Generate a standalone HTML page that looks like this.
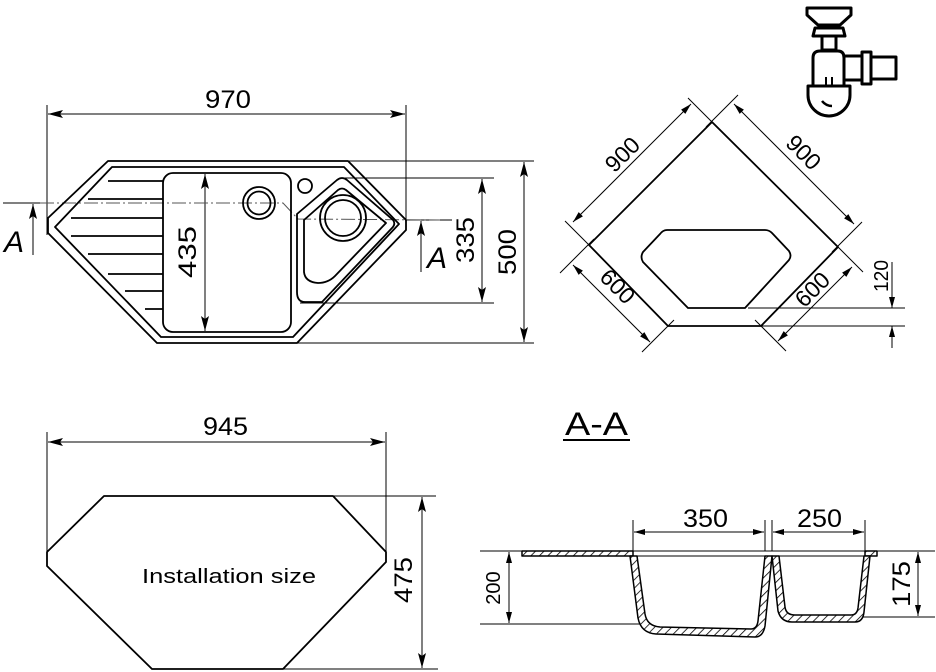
<!DOCTYPE html>
<html><head><meta charset="utf-8"><style>
html,body{margin:0;padding:0;background:#fff;}
svg{display:block;}
text{font-family:"Liberation Sans",sans-serif;fill:#000;}
</style></head><body>
<svg width="936" height="672" viewBox="0 0 936 672" xmlns="http://www.w3.org/2000/svg">
<defs>
<marker id="a" markerWidth="16" markerHeight="8" refX="15" refY="4" orient="auto-start-reverse" markerUnits="userSpaceOnUse"><path d="M0,0 L15,4 L0,8 L3,4 Z" fill="#000"/></marker>
<marker id="s" markerWidth="12" markerHeight="6" refX="11" refY="3" orient="auto-start-reverse" markerUnits="userSpaceOnUse"><path d="M0,0 L11,3 L0,6 Z" fill="#000"/></marker>
<pattern id="h" width="6" height="6" patternUnits="userSpaceOnUse" patternTransform="rotate(45)"><rect width="6" height="6" fill="#fff"/><line x1="0" y1="0" x2="0" y2="6" stroke="#000" stroke-width="1.6"/></pattern>
</defs>

<g fill="none" stroke="#000" stroke-width="1">
<line x1="47" y1="105" x2="47" y2="235"/>
<line x1="406" y1="105" x2="406" y2="222"/>
<line x1="48" y1="114" x2="405" y2="114" marker-start="url(#a)" marker-end="url(#a)"/>
<line x1="348" y1="161" x2="534" y2="161"/>
<line x1="297" y1="343" x2="534" y2="343"/>
<line x1="524" y1="162" x2="524" y2="342" marker-start="url(#a)" marker-end="url(#a)"/>
<line x1="342" y1="178" x2="494" y2="178"/>
<line x1="300" y1="303" x2="494" y2="303"/>
<line x1="482" y1="179" x2="482" y2="302" marker-start="url(#a)" marker-end="url(#a)"/>
<line x1="205" y1="174" x2="205" y2="331" marker-start="url(#a)" marker-end="url(#a)"/>
<line x1="3" y1="203" x2="40" y2="203"/>
<line x1="33" y1="255" x2="33" y2="204" marker-end="url(#a)"/>
<line x1="405" y1="220" x2="452" y2="220"/>
<line x1="421" y1="272" x2="421" y2="221" marker-end="url(#a)"/>
<path d="M40,203 L283,203 L298,219 L440,220" stroke="#555" stroke-dasharray="14,3,2,3"/>
</g>
<g fill="none" stroke="#000" stroke-width="1.8" stroke-linejoin="round">
<path d="M108,161 L348,161 L406,220 L406,230 L297,343 L157,343 L48,233 L48,218 Z"/>
<path d="M112,167 L344,167 L399,224 L293,337 L161,337 L55,227 Z"/>
<rect x="163" y="173" width="128" height="159" rx="10"/>
<circle cx="259" cy="203" r="16"/>
<circle cx="259" cy="203" r="11.5"/>
<circle cx="305" cy="186" r="7"/>
<path d="M297,214 L337,180 Q342,176 347,180 L393,220 Q396,224 392,228 L322,302 L305,302 Q297,302 297,292 Z"/>
<path d="M304,220 L338,190 Q342,187 346,190 L386,223 L335,276 Q328,283 318,283 Q305,282 304,272 Z"/>
<circle cx="343" cy="218" r="23"/>
<circle cx="343" cy="218" r="18"/>
</g>
<g stroke="#000" stroke-width="1.8">
<line x1="108" y1="181" x2="163" y2="181"/>
<line x1="88" y1="199" x2="163" y2="199"/>
<line x1="71" y1="218" x2="163" y2="218"/>
<line x1="71" y1="236" x2="163" y2="236"/>
<line x1="88" y1="254" x2="163" y2="254"/>
<line x1="108" y1="274" x2="163" y2="274"/>
<line x1="125" y1="291" x2="163" y2="291"/>
<line x1="145" y1="309" x2="163" y2="309"/>
</g>
<text x="205" y="108" font-size="25" textLength="46" lengthAdjust="spacingAndGlyphs">970</text>
<text transform="translate(196,252) rotate(-90)" font-size="25" text-anchor="middle" textLength="52" lengthAdjust="spacingAndGlyphs">435</text>
<text transform="translate(474,240) rotate(-90)" font-size="25" text-anchor="middle" textLength="46" lengthAdjust="spacingAndGlyphs">335</text>
<text transform="translate(516,252) rotate(-90)" font-size="25" text-anchor="middle" textLength="46" lengthAdjust="spacingAndGlyphs">500</text>
<text x="4" y="252" font-size="30" font-style="italic">A</text>
<text x="427" y="268" font-size="30" font-style="italic">A</text>

<g fill="none" stroke="#000" stroke-width="1">
<line x1="688" y1="98" x2="718" y2="128"/>
<line x1="565" y1="221" x2="595" y2="251"/>
<line x1="573" y1="222" x2="691" y2="104" marker-start="url(#s)" marker-end="url(#s)"/>
<line x1="738" y1="95" x2="706" y2="127"/>
<line x1="862" y1="222" x2="832" y2="252"/>
<line x1="734" y1="104" x2="854" y2="224" marker-start="url(#s)" marker-end="url(#s)"/>
<line x1="560" y1="273" x2="594" y2="239"/>
<line x1="642" y1="352" x2="674" y2="320"/>
<line x1="573" y1="265" x2="650" y2="342" marker-start="url(#s)" marker-end="url(#s)"/>
<line x1="786" y1="351" x2="755" y2="320"/>
<line x1="863" y1="272" x2="832" y2="241"/>
<line x1="778" y1="341" x2="852" y2="267" marker-start="url(#s)" marker-end="url(#s)"/>
<line x1="748" y1="308" x2="905" y2="308"/>
<line x1="761" y1="326" x2="905" y2="326"/>
<line x1="892" y1="262" x2="892" y2="308" marker-end="url(#s)"/>
<line x1="892" y1="348" x2="892" y2="326" marker-end="url(#s)"/>
</g>
<g fill="none" stroke="#000" stroke-width="1.8" stroke-linejoin="round">
<path d="M712,122 L838,247 L761,326 L668,326 L589,245 Z"/>
<path d="M667,230 L765,230 Q769,230 772,233 L789,251 Q792,256 789,260 L745,308 L688,308 L643,262 Q640,257 643,252 L660,234 Q663,230 667,230 Z"/>
</g>
<text transform="translate(628,160) rotate(-45)" font-size="23" text-anchor="middle">900</text>
<text transform="translate(798,158) rotate(45)" font-size="23" text-anchor="middle">900</text>
<text transform="translate(612,292) rotate(45)" font-size="23" text-anchor="middle">600</text>
<text transform="translate(818,295) rotate(-45)" font-size="23" text-anchor="middle">600</text>
<text transform="translate(888,276) rotate(-90)" font-size="20" text-anchor="middle" textLength="32" lengthAdjust="spacingAndGlyphs">120</text>

<g fill="none" stroke="#000" stroke-width="3" stroke-linejoin="round">
<path d="M807,8 L851,8 L851,15 L840,25 L818,25 L807,15 Z"/>
<path d="M815,28 L843,28 L845,36 L813,36 Z"/>
<rect x="822" y="36" width="14" height="14"/>
<path d="M813,85 L813,58 Q813,51 820,51 L838,51 Q844,51 844,58 L844,85"/>
<rect x="844" y="56" width="18" height="24"/>
<rect x="862" y="52" width="9" height="32"/>
<rect x="871" y="57" width="25" height="22"/>
<path d="M808,86 L850,86 L850,95 A21,21 0 0 1 808,95 Z"/>
<path d="M822,101 Q826,106 832,106" stroke-width="2.5"/>
<line x1="826" y1="77" x2="826" y2="86" stroke-width="2"/>
<line x1="832" y1="77" x2="832" y2="86" stroke-width="2"/>
</g>

<g fill="none" stroke="#000" stroke-width="1">
<line x1="47" y1="432" x2="47" y2="556"/>
<line x1="386" y1="432" x2="386" y2="552"/>
<line x1="48" y1="442" x2="385" y2="442" marker-start="url(#a)" marker-end="url(#a)"/>
<line x1="333" y1="496" x2="436" y2="496"/>
<line x1="283" y1="669" x2="438" y2="669"/>
<line x1="422" y1="497" x2="422" y2="668" marker-start="url(#a)" marker-end="url(#a)"/>
</g>
<path d="M104,496 L333,496 L386,552 L386,562 L283,669 L152,669 L47,566 L47,552 Z" fill="none" stroke="#000" stroke-width="1.8" stroke-linejoin="round"/>
<text x="203" y="435" font-size="25" textLength="45" lengthAdjust="spacingAndGlyphs">945</text>
<text transform="translate(412,580) rotate(-90)" font-size="25" text-anchor="middle" textLength="46" lengthAdjust="spacingAndGlyphs">475</text>
<text x="142" y="583" font-size="20" textLength="174" lengthAdjust="spacingAndGlyphs">Installation size</text>

<text x="565" y="435" font-size="32" textLength="63" lengthAdjust="spacingAndGlyphs">A-A</text>
<line x1="563" y1="440" x2="630" y2="440" stroke="#000" stroke-width="2"/>
<g fill="none" stroke="#000" stroke-width="1">
<line x1="480" y1="551" x2="935" y2="551"/>
<line x1="633" y1="556" x2="870" y2="556"/>
<line x1="480" y1="624" x2="640" y2="624"/>
<line x1="860" y1="617" x2="935" y2="617"/>
<line x1="509" y1="552" x2="509" y2="623" marker-start="url(#s)" marker-end="url(#s)"/>
<line x1="918" y1="552" x2="918" y2="616" marker-start="url(#s)" marker-end="url(#s)"/>
<line x1="633" y1="520" x2="633" y2="551"/>
<line x1="765" y1="520" x2="765" y2="551"/>
<line x1="772" y1="520" x2="772" y2="551"/>
<line x1="865" y1="520" x2="865" y2="551"/>
<line x1="634" y1="532" x2="764" y2="532" marker-start="url(#s)" marker-end="url(#s)"/>
<line x1="773" y1="532" x2="864" y2="532" marker-start="url(#s)" marker-end="url(#s)"/>
</g>
<g fill="url(#h)" stroke="#000" stroke-width="1.5" stroke-linejoin="round">
<rect x="522" y="551" width="111" height="5"/>
<rect x="865" y="551" width="12" height="5"/>
<path d="M630,556 L638,618 Q641,633 656,634 L755,637 Q763,637 765,626 L772,556 L765,556 L758,621 Q757,629 751,629 L660,627 Q647,626 645,614 L637,556 Z"/>
<path d="M772,556 L778,611 Q781,622 792,622 L855,622 Q863,622 864,612 L870,556 L864,556 L858,608 Q857,615 851,615 L795,615 Q786,615 785,607 L779,556 Z"/>
</g>
<text x="683" y="527" font-size="25" textLength="45" lengthAdjust="spacingAndGlyphs">350</text>
<text x="797" y="527" font-size="25" textLength="45" lengthAdjust="spacingAndGlyphs">250</text>
<text transform="translate(500,588) rotate(-90)" font-size="20" text-anchor="middle">200</text>
<text transform="translate(910,584) rotate(-90)" font-size="25" text-anchor="middle" textLength="46" lengthAdjust="spacingAndGlyphs">175</text>
</svg>
</body></html>
